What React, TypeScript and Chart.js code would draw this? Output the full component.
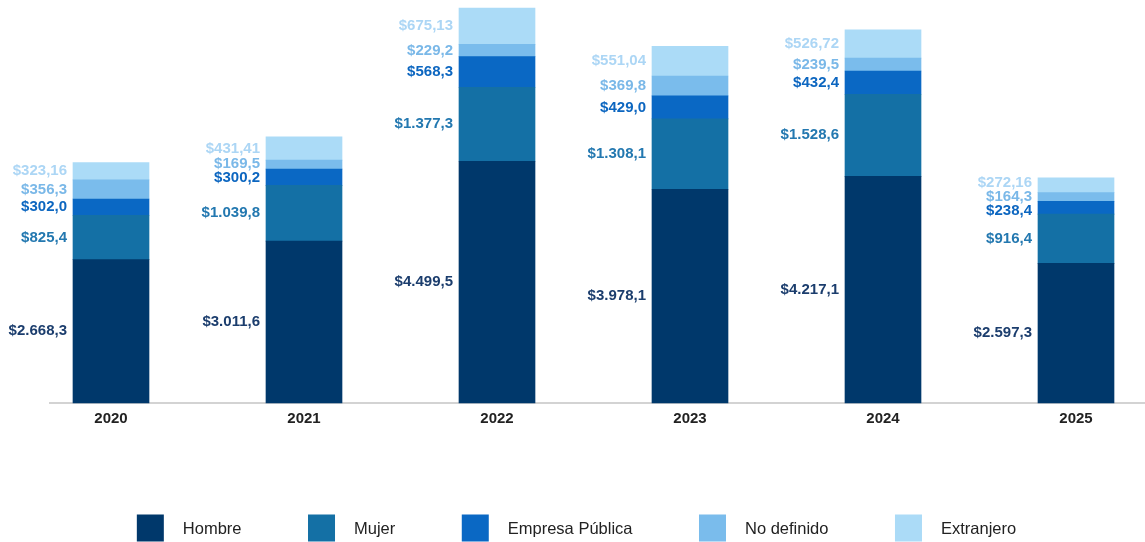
import { useEffect, useRef } from "react";
import { Chart, registerables } from "chart.js";

Chart.register(...registerables);

const categories = ["2020", "2021", "2022", "2023", "2024", "2025"];
const seriesNames = ["Hombre", "Mujer", "Empresa Pública", "No definido", "Extranjero"];
const hombre = [2668.3, 3011.6, 4499.5, 3978.1, 4217.1, 2597.3];
const mujer = [825.4, 1039.8, 1377.3, 1308.1, 1528.6, 916.4];
const empresaPublica = [302.0, 300.2, 568.3, 429.0, 432.4, 238.4];
const noDefinido = [356.3, 169.5, 229.2, 369.8, 239.5, 164.3];
const extranjero = [323.16, 431.41, 675.13, 551.04, 526.72, 272.16];
const labelDecimals = [1, 1, 1, 1, 2];

const barColors = ["#00386b", "#1470a5", "#0a68c4", "#7abcec", "#abdbf7"];
const labelColors = ["#1b3d6d", "#2378b0", "#0c66c0", "#7ab8e8", "#acd6f5"];

const FONT = "'Liberation Sans', Arial, Helvetica, sans-serif";

function fmt(v: number, d: number): string {
  const s = v.toFixed(d);
  const [intPart, dec] = s.split(".");
  const withDots = intPart.replace(/\B(?=(\d{3})+(?!\d))/g, ".");
  return "$" + withDots + (dec ? "," + dec : "");
}

const baselinePlugin = {
  id: "baseline",
  beforeDatasetsDraw(chart: any) {
    const { ctx, chartArea } = chart;
    ctx.save();
    ctx.strokeStyle = "#d3d3d3";
    ctx.lineWidth = 2;
    ctx.beginPath();
    ctx.moveTo(49, chartArea.bottom);
    ctx.lineTo(chart.width, chartArea.bottom);
    ctx.stroke();
    ctx.restore();
  },
};

const segLabelPlugin = {
  id: "segLabels",
  afterDatasetsDraw(chart: any) {
    const ctx = chart.ctx;
    ctx.save();
    ctx.font = "bold 15px " + FONT;
    ctx.textAlign = "right";
    ctx.textBaseline = "middle";
    const n = chart.data.labels.length;
    const MIN = 14;
    for (let i = 0; i < n; i++) {
      const items: any[] = [];
      chart.data.datasets.forEach((ds: any, di: number) => {
        const el = chart.getDatasetMeta(di).data[i] as any;
        const top = Math.min(el.y, el.base);
        const bot = Math.max(el.y, el.base);
        items.push({
          y: (top + bot) / 2,
          x: el.x - el.width / 2 - 6,
          text: fmt(ds.data[i], labelDecimals[di]),
          color: labelColors[di],
        });
      });
      for (let iter = 0; iter < 60; iter++) {
        let moved = false;
        for (let k = 0; k < items.length - 1; k++) {
          const lower = items[k];
          const upper = items[k + 1];
          const gap = lower.y - upper.y;
          if (gap < MIN - 0.01) {
            const d = (MIN - gap) / 2;
            lower.y += d;
            upper.y -= d;
            moved = true;
          }
        }
        if (!moved) break;
      }
      items.forEach((it) => {
        ctx.fillStyle = it.color;
        ctx.fillText(it.text, it.x, it.y);
      });
    }
    ctx.restore();
  },
};

const legendPlugin = {
  id: "customLegend",
  afterDraw(chart: any) {
    const ctx = chart.ctx;
    ctx.save();
    ctx.font = "16.5px " + FONT;
    ctx.textBaseline = "middle";
    ctx.textAlign = "left";
    const box = 27;
    const boxGap = 19;
    const itemGap = 66.5;
    const widths = seriesNames.map((s) => box + boxGap + ctx.measureText(s).width);
    const total = widths.reduce((a, b) => a + b, 0) + itemGap * (widths.length - 1);
    let x = chart.width / 2 + 4 - total / 2;
    const cy = 528;
    seriesNames.forEach((s, i) => {
      ctx.fillStyle = barColors[i];
      ctx.fillRect(x, cy - box / 2, box, box);
      ctx.fillStyle = "#222222";
      ctx.fillText(s, x + box + boxGap, cy + 1);
      x += widths[i] + itemGap;
    });
    ctx.restore();
  },
};

export default function App() {
  const ref = useRef<HTMLCanvasElement | null>(null);

  useEffect(() => {
    document.body.style.margin = "0";
    const canvas = ref.current;
    if (!canvas) return;
    const seriesData = [hombre, mujer, empresaPublica, noDefinido, extranjero];
    const chart = new Chart(canvas, {
      type: "bar",
      data: {
        labels: categories,
        datasets: seriesNames.map((name, i) => ({
          label: name,
          data: seriesData[i],
          backgroundColor: barColors[i],
          borderWidth: 0,
          barThickness: 76,
          clip: false as any,
        })),
      },
      options: {
        animation: false,
        responsive: false,
        maintainAspectRatio: false,
        layout: { padding: { left: 111, right: 69, top: 0, bottom: 107 } },
        plugins: {
          legend: { display: false },
          tooltip: { enabled: false },
        },
        scales: {
          x: {
            stacked: true,
            offset: false,
            grid: { display: false, drawTicks: false },
            border: { display: false },
            ticks: {
              padding: 7,
              color: "#222222",
              font: { family: FONT, size: 15, weight: "bold" },
              maxRotation: 0,
              autoSkip: false,
            },
          },
          y: {
            stacked: true,
            display: false,
            min: 0,
            max: 7500,
          },
        },
      },
      plugins: [baselinePlugin, segLabelPlugin, legendPlugin],
    });
    return () => chart.destroy();
  }, []);

  return (
    <div style={{ width: 1145, height: 542 }}>
      <canvas ref={ref} width={1145} height={542} style={{ display: "block" }} />
    </div>
  );
}
